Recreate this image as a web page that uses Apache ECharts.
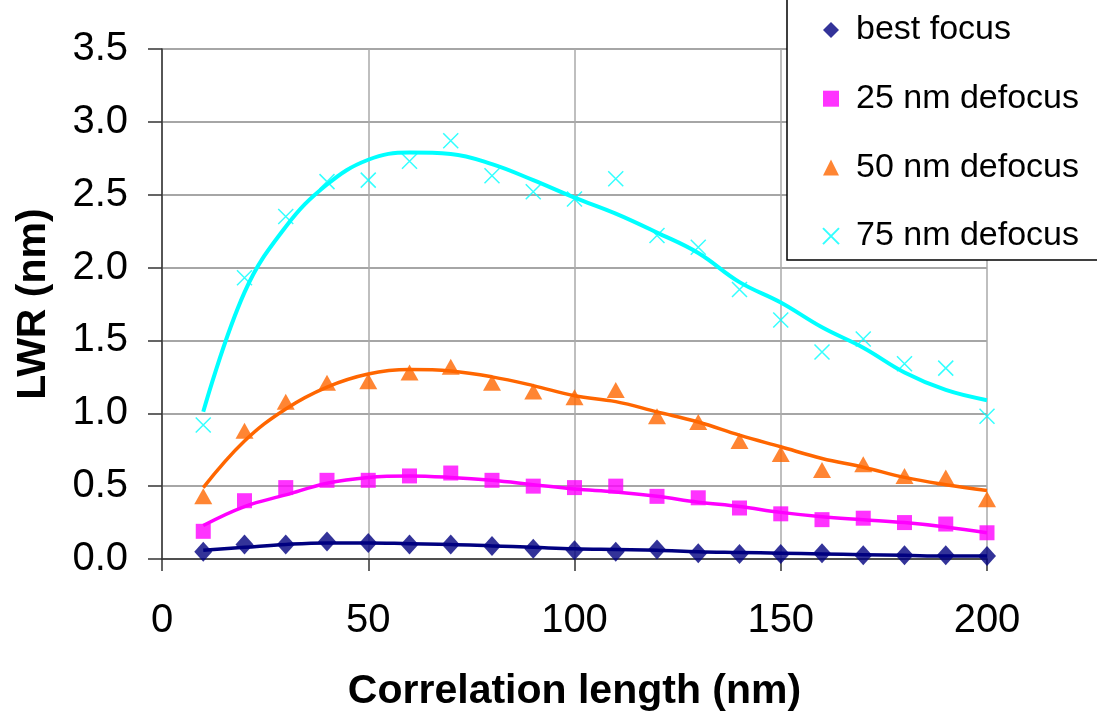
<!DOCTYPE html>
<html lang="en">
<head>
    <meta charset="UTF-8">
    <title>LWR vs correlation length</title>
    <script src="https://cdn.jsdelivr.net/npm/echarts@6.0.0/dist/echarts.min.js"></script>
    <style>
        html, body { margin: 0; padding: 0; background: #fff; }
    </style>
</head>
<body>
    <div id="main" style="width: 1097px; height: 717px;"></div>
    <script>
        // correlation length (nm)
        const xValues = [10, 20, 30, 40, 50, 60, 70, 80, 90, 100, 110, 120, 130, 140, 150, 160, 170, 180, 190, 200];

        // measured LWR points (nm)
        const bestFocus = [0.05, 0.10, 0.10, 0.12, 0.11, 0.10, 0.10, 0.09, 0.07, 0.06, 0.05, 0.065, 0.04, 0.035, 0.035, 0.04, 0.025, 0.025, 0.025, 0.02];
        const defocus25 = [0.19, 0.40, 0.49, 0.54, 0.54, 0.57, 0.59, 0.54, 0.50, 0.49, 0.50, 0.43, 0.42, 0.35, 0.31, 0.27, 0.28, 0.25, 0.24, 0.18];
        const defocus50 = [0.43, 0.88, 1.08, 1.21, 1.22, 1.28, 1.32, 1.21, 1.15, 1.11, 1.16, 0.98, 0.94, 0.81, 0.72, 0.61, 0.65, 0.57, 0.56, 0.41];
        const defocus75 = [0.92, 1.93, 2.35, 2.59, 2.60, 2.73, 2.87, 2.63, 2.52, 2.47, 2.61, 2.22, 2.14, 1.85, 1.64, 1.42, 1.51, 1.34, 1.31, 0.98];

        // trend lines
        const bestFocusFit = [0.06, 0.08, 0.10, 0.11, 0.11, 0.105, 0.10, 0.09, 0.08, 0.07, 0.065, 0.06, 0.05, 0.045, 0.04, 0.035, 0.03, 0.025, 0.02, 0.02];
        const defocus25Fit = [0.23, 0.36, 0.44, 0.52, 0.56, 0.57, 0.56, 0.54, 0.51, 0.48, 0.46, 0.43, 0.39, 0.36, 0.32, 0.29, 0.27, 0.25, 0.22, 0.18];
        const defocus50Fit = [0.49, 0.81, 1.03, 1.18, 1.27, 1.30, 1.29, 1.25, 1.19, 1.12, 1.08, 1.01, 0.94, 0.85, 0.77, 0.69, 0.63, 0.56, 0.51, 0.47];
        const defocus75Fit = [1.01, 1.83, 2.28, 2.57, 2.74, 2.79, 2.78, 2.71, 2.60, 2.48, 2.37, 2.24, 2.10, 1.90, 1.76, 1.59, 1.45, 1.28, 1.16, 1.09];

        const seriesNames = ['best focus', '25 nm defocus', '50 nm defocus', '75 nm defocus'];
        const xTicks = { min: 0, max: 200, interval: 50 };
        const yTicks = { min: 0, max: 3.5, interval: 0.5 };

        const pairs = (ys) => xValues.map((x, i) => [x, ys[i]]);
        const font = "'Liberation Sans', Arial, sans-serif";
        const crossPath = 'path://M0,0L10,10M10,0L0,10';

        const myChart = echarts.init(document.getElementById('main'));

        // one smooth trend line under each set of markers
        const fitLine = (name, ys, color, width) => ({
            name: name,
            type: 'line',
            data: pairs(ys),
            smooth: 0.4,
            symbol: 'none',
            lineStyle: { color: color, width: width },
            z: 2,
            silent: true
        });

        const markers = (name, ys, symbol, size, style) => ({
            name: name,
            type: 'scatter',
            data: pairs(ys),
            symbol: symbol,
            symbolSize: size,
            itemStyle: style,
            z: 3
        });

        const option = {
            backgroundColor: '#fff',
            animation: false,
            textStyle: { fontFamily: font },
            grid: { left: 162, right: 110, top: 49, bottom: 158 },
            legend: {
                data: seriesNames,
                orient: 'vertical',
                left: 787,
                top: -2,
                padding: [15, 80, 7, 35],
                itemWidth: 16,
                itemHeight: 16,
                itemGap: 34.7,
                backgroundColor: '#fff',
                borderColor: '#000',
                borderWidth: 1.5,
                borderRadius: 0,
                textStyle: { fontSize: 34, color: '#000', fontFamily: font, lineHeight: 34, padding: [0, 0, 0, 12] }
            },
            xAxis: {
                type: 'value',
                min: xTicks.min,
                max: xTicks.max,
                interval: xTicks.interval,
                name: 'Correlation length (nm)',
                nameLocation: 'middle',
                nameGap: 112,
                nameTextStyle: { fontSize: 41, fontWeight: 'bold', color: '#000', fontFamily: font },
                axisLine: { lineStyle: { color: '#333', width: 1.5 } },
                axisTick: { show: true, length: 12, lineStyle: { color: '#333', width: 1.5 } },
                axisLabel: { fontSize: 40, color: '#000', margin: 42, fontFamily: font },
                splitLine: { show: true, lineStyle: { color: '#aaa', width: 1.5 } }
            },
            yAxis: {
                type: 'value',
                min: yTicks.min,
                max: yTicks.max,
                interval: yTicks.interval,
                name: 'LWR (nm)',
                nameLocation: 'middle',
                nameRotate: 90,
                nameGap: 108,
                nameTextStyle: { fontSize: 41, fontWeight: 'bold', color: '#000', fontFamily: font },
                axisLine: { show: true, lineStyle: { color: '#333', width: 1.5 } },
                axisTick: { show: true, length: 14, lineStyle: { color: '#333', width: 1.5 } },
                axisLabel: { fontSize: 40, color: '#000', margin: 34, fontFamily: font, formatter: (v) => v.toFixed(1) },
                splitLine: { show: true, lineStyle: { color: '#888', width: 1.5 } }
            },
            series: [
                fitLine('best focus fit', bestFocusFit, '#000080', 3.5),
                fitLine('25 nm defocus fit', defocus25Fit, '#FF00FF', 3.5),
                fitLine('50 nm defocus fit', defocus50Fit, '#FF6600', 3.5),
                fitLine('75 nm defocus fit', defocus75Fit, '#00FFFF', 4),
                markers(seriesNames[0], bestFocus, 'diamond', [18, 20], { color: '#000080' }),
                markers(seriesNames[1], defocus25, 'rect', 15, { color: '#FF00FF' }),
                markers(seriesNames[2], defocus50, 'triangle', [18, 16], { color: '#FF6600' }),
                markers(seriesNames[3], defocus75, crossPath, 15, { color: 'rgba(0,0,0,0)', borderColor: '#00FFFF', borderWidth: 1.5 })
            ]
        };

        myChart.setOption(option);
    </script>
</body>
</html>
